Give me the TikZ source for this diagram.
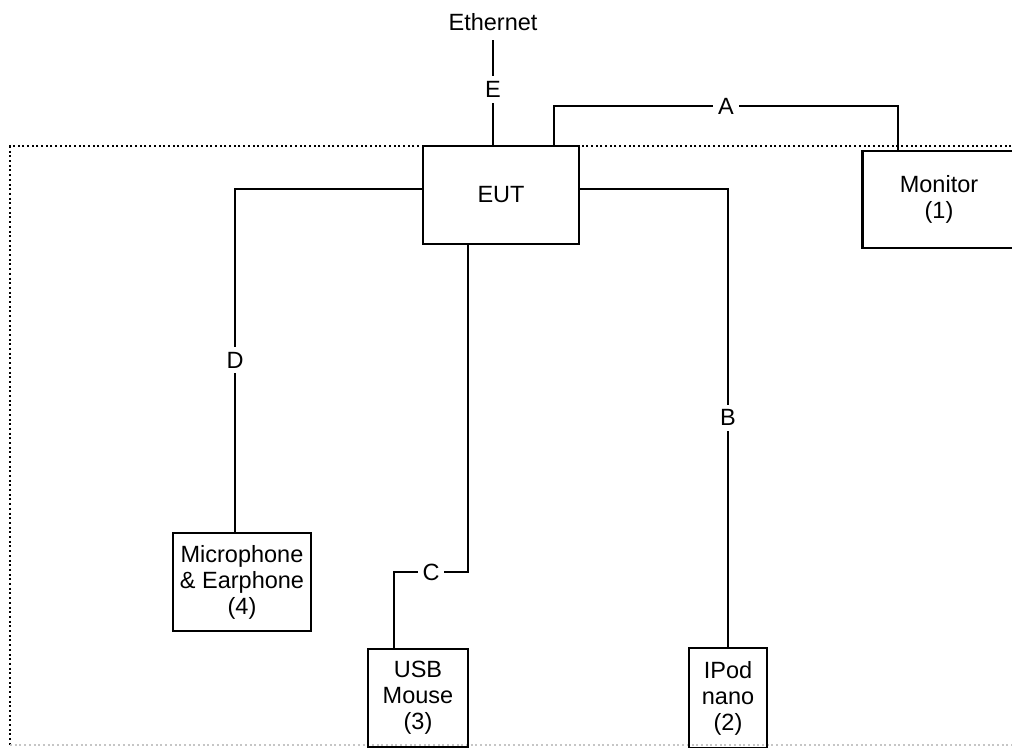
\documentclass[tikz,border=0pt]{standalone}
\usepackage{fontspec}
\setmainfont{Liberation Sans}

\begin{document}
\begin{tikzpicture}[x=1pt,y=-1pt,
  font=\fontsize{23.5}{26}\selectfont,
  dev/.style={draw,line width=2.4pt,align=center,inner sep=0pt},
  conn/.style={line width=2.2pt},
  lbl/.style={fill=white,inner sep=5pt}]
\clip (0,0) rectangle (1012,747);
% enclosure of the test setup
\draw[line width=2pt,dash pattern=on 2pt off 2.7pt] (1030,146) -- (10,146) -- (10,745);
\draw[line width=2pt,dash pattern=on 2pt off 2.7pt,gray!45] (10,745) -- (1030,745);
% devices
\node (eth) at (493,22) {Ethernet};
\node[dev,minimum width=156pt,minimum height=98pt] (eut) at (501,195) {EUT};
\node[dev,minimum width=153pt,minimum height=97pt] (mon) at (939,199.5) {Monitor\\(1)};
\node[dev,minimum width=138pt,minimum height=98pt] (mic) at (242,582) {Microphone\\\& Earphone\\(4)};
\node[dev,minimum width=100pt,minimum height=98pt] (usb) at (418,698) {USB\\Mouse\\(3)};
\node[dev,minimum width=78pt,minimum height=100pt] (ipod) at (728,698) {IPod\\nano\\(2)};
% cables
\coordinate (aup) at (554,106);
\coordinate (adown) at (898,106);
\coordinate (cbend) at (468,572);
\coordinate (usbin) at ([xshift=-24pt]usb.north);
\coordinate (micin) at ([xshift=-7pt]mic.north);
\draw[conn,shorten <=6pt] (eth.south) -- node[lbl]{E} (eth.south |- eut.north);
\draw[conn] (eut.north -| aup) -- (aup) -- node[lbl]{A} (adown) -- (adown |- mon.north);
\draw[conn] ([yshift=6pt]eut.east) -| node[lbl,pos=0.75]{B} (ipod.north);
\draw[conn] (cbend |- eut.south) -- (cbend) -- node[lbl]{C} (cbend -| usbin) -- (usbin);
\draw[conn] ([yshift=6pt]eut.west) -| node[lbl,pos=0.75]{D} (micin);
\end{tikzpicture}
\end{document}
